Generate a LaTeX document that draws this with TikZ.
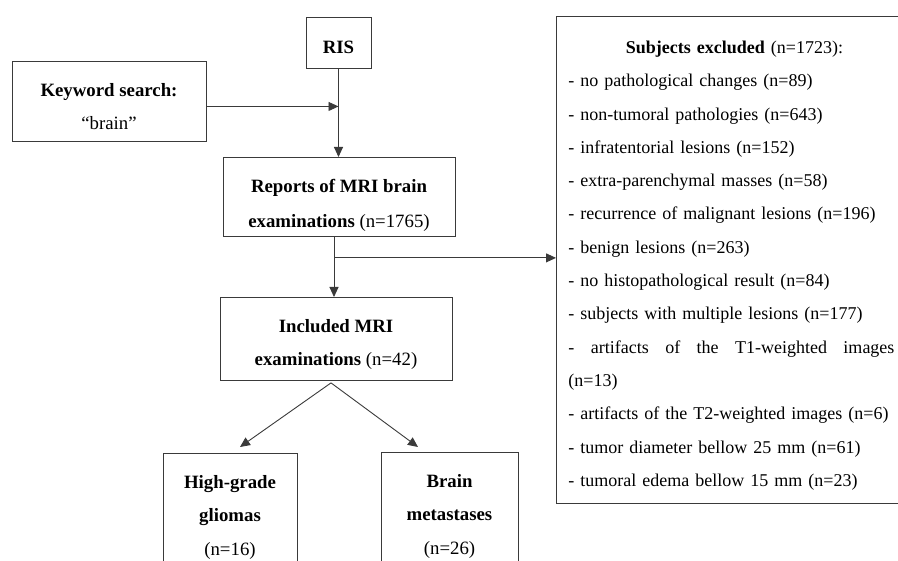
\documentclass[tikz,border=0pt]{standalone}
\usepackage{fontspec}
\setmainfont{Liberation Serif}
\usetikzlibrary{arrows.meta}
\definecolor{linegray}{HTML}{3A3A3A}
\tikzset{
  box/.style={draw=linegray, line width=0.9pt, inner xsep=0pt, inner ysep=0pt,
    anchor=north, align=center, font=\fontsize{18.8}{33.3}\selectfont},
  listbox/.style={box, anchor=north west, align=left, text width=326pt,
    inner xsep=12pt, font=\fontsize{18}{33.3}\selectfont},
  conn/.style={draw=linegray, line width=0.9pt},
  arr/.style={conn, -{Triangle[length=10pt,width=9pt]}},
}
\newcommand{\topstrut}[1]{\rule{0pt}{#1pt}}
\newcommand{\botstrut}[1]{\rule[-#1pt]{0pt}{#1pt}}
\begin{document}
\begin{tikzpicture}[x=1pt,y=-1pt]
\useasboundingbox (0,0) rectangle (898,561);
% boxes
\node[box, minimum width=65pt] (ris) at (338.5,17) {\topstrut{36}\textbf{RIS}\botstrut{15}};
\node[box, minimum width=194pt] (kw) at (109,61) {\topstrut{35}\textbf{Keyword search:}\\“brain”\botstrut{11.7}};
\node[box, minimum width=232pt] (rep) at (339,157) {\topstrut{35}\textbf{Reports of MRI brain}\\[1.5pt]\textbf{examinations} (n=1765)\botstrut{9.2}};
\node[box, minimum width=232pt] (inc) at (336,297) {\topstrut{35}\textbf{Included MRI}\\\textbf{examinations} (n=42)\botstrut{14.7}};
\node[box, minimum width=134pt] (hgg) at (230,453) {\topstrut{35}\textbf{High-grade}\\\textbf{gliomas}\\(n=16)\botstrut{30}};
\node[box, minimum width=137pt] (bm) at (449.5,452) {\topstrut{35}\textbf{Brain}\\\textbf{metastases}\\(n=26)\botstrut{30}};
\node[listbox] (excl) at (556,16) {%
\topstrut{37}\makebox[326pt][c]{\hspace{6pt}\textbf{Subjects excluded} (n=1723):}\\
- no pathological changes (n=89)\\
- non-tumoral pathologies (n=643)\\
- infratentorial lesions (n=152)\\
- extra-parenchymal masses (n=58)\\
- recurrence of malignant lesions (n=196)\\
- benign lesions (n=263)\\
- no histopathological result (n=84)\\
- subjects with multiple lesions (n=177)\\
\makebox[326pt][l]{-\hfill artifacts\hfill of\hfill the\hfill T1-weighted\hfill images}\\
(n=13)\\
- artifacts of the T2-weighted images (n=6)\\
- tumor diameter bellow 25 mm (n=61)\\
- tumoral edema bellow 15 mm (n=23)\botstrut{17}};
% connectors
\coordinate (kwin) at (ris.south |- kw.east);
\draw[arr] ([yshift=-5pt]kw.east) -- ([yshift=-5pt]kwin);
\draw[arr] (ris.south) -- (ris.south |- rep.north);
\coordinate (repout) at ([xshift=-5pt]rep.south);
\draw[arr] (repout) -- (repout |- inc.north);
\coordinate (split) at ([yshift=-21pt]repout);
\draw[arr] (split) -- (split -| excl.west);
\coordinate (incout) at ([xshift=-5pt,yshift=-2pt]inc.south);
\draw[arr] (incout) -- ([xshift=10pt,yshift=6pt]hgg.north);
\draw[arr] (incout) -- ([xshift=-31.5pt,yshift=5pt]bm.north);
\end{tikzpicture}
\end{document}
